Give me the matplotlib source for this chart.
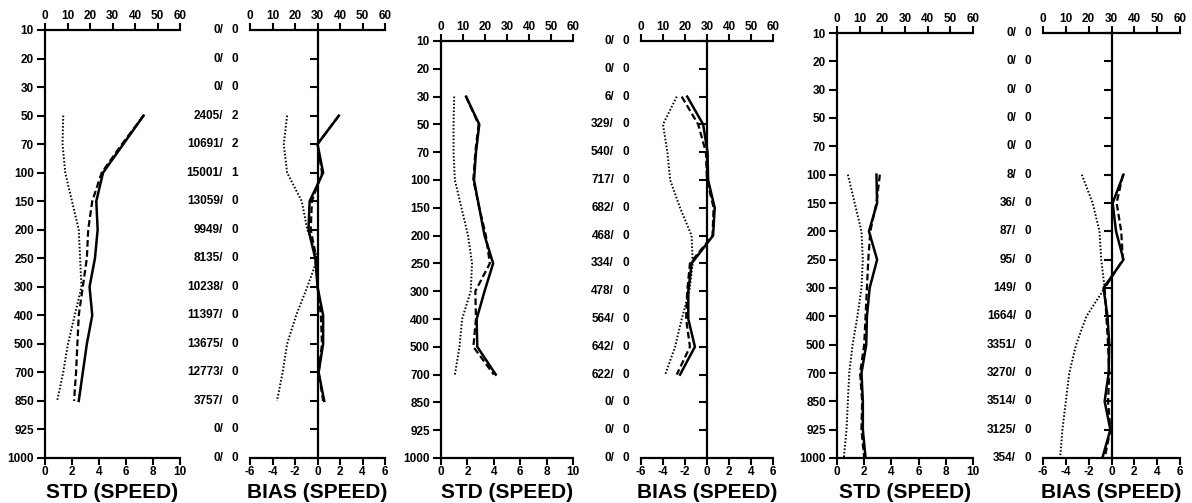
import numpy as np
import matplotlib
matplotlib.use("Agg")
import matplotlib.pyplot as plt

plt.rcParams['font.family'] = ['Liberation Sans', 'DejaVu Sans']
plt.rcParams['font.weight'] = 'bold'

################ datos ################
levels = ["10", "20", "30", "50", "70", "100", "150", "200", "250", "300",
          "400", "500", "700", "850", "925", "1000"]
nan = np.nan

# panel 1
n_obs1 = ["0", "0", "0", "2405", "10691", "15001", "13059", "9949", "8135",
          "10238", "11397", "13675", "12773", "3757", "0", "0"]
n_rej1 = ["0", "0", "0", "2", "2", "1", "0", "0", "0", "0", "0", "0", "0", "0", "0", "0"]
std1_solid  = [nan, nan, nan, 7.3, 5.8, 4.3, 3.8, 3.9, 3.7, 3.3, 3.5, 3.1, 2.8, 2.5, nan, nan]
std1_dash   = [nan, nan, nan, 7.3, 5.7, 4.2, 3.5, 3.2, 3.1, 2.8, 2.5, 2.4, 2.3, 2.15, nan, nan]
std1_dot    = [nan, nan, nan, 1.35, 1.3, 1.5, 2.0, 2.5, 2.6, 2.7, 2.2, 1.7, 1.35, 0.9, nan, nan]
bias1_solid = [nan, nan, nan, 1.9, 0.0, 0.5, -0.7, -0.8, -0.2, 0.0, 0.5, 0.5, 0.1, 0.6, nan, nan]
bias1_dash  = [nan, nan, nan, 1.9, 0.0, 0.4, -0.5, -0.6, -0.1, 0.0, 0.3, 0.4, 0.1, 0.5, nan, nan]
bias1_dot   = [nan, nan, nan, -2.7, -3.0, -2.7, -1.4, -0.9, 0.0, -0.9, -1.9, -2.7, -3.1, -3.6, nan, nan]

# panel 2
n_obs2 = ["0", "0", "6", "329", "540", "717", "682", "468", "334", "478",
          "564", "642", "622", "0", "0", "0"]
n_rej2 = ["0"] * 16
std2_solid  = [nan, nan, 1.9, 2.9, 2.65, 2.5, 2.9, 3.3, 3.95, 3.3, 2.7, 2.75, 4.15, nan, nan, nan]
std2_dash   = [nan, nan, 1.9, 2.85, 2.6, 2.45, 2.9, 3.4, 3.7, 2.6, 2.65, 2.45, 4.0, nan, nan, nan]
std2_dot    = [nan, nan, 1.0, 0.95, 0.95, 1.05, 1.55, 2.05, 2.35, 2.25, 1.6, 1.4, 1.05, nan, nan, nan]
bias2_solid = [nan, nan, -1.8, -0.35, 0.05, 0.1, 0.7, 0.55, -1.4, -1.7, -1.7, -1.1, -2.45, nan, nan, nan]
bias2_dash  = [nan, nan, -2.3, -0.8, -0.1, 0.0, 0.6, 0.5, -1.55, -1.8, -1.9, -1.55, -2.75, nan, nan, nan]
bias2_dot   = [nan, nan, -2.75, -4.0, -3.6, -3.35, -2.45, -1.4, -1.3, -1.6, -2.3, -2.9, -3.8, nan, nan, nan]

# panel 3
n_obs3 = ["0", "0", "0", "0", "0", "8", "36", "87", "95", "149",
          "1664", "3351", "3270", "3514", "3125", "354"]
n_rej3 = ["0"] * 16
std3_solid  = [nan, nan, nan, nan, nan, 2.9, 2.95, 2.35, 2.95, 2.4, 2.2, 2.15, 1.8, 1.9, 1.9, 2.1]
std3_dash   = [nan, nan, nan, nan, nan, 3.15, 2.9, 2.45, 2.3, 2.2, 2.1, 2.0, 1.7, 1.85, 1.8, 2.0]
std3_dot    = [nan, nan, nan, nan, nan, 0.8, 1.3, 1.8, 1.9, 1.8, 1.5, 1.15, 0.9, 0.8, 0.7, 0.5]
bias3_solid = [nan, nan, nan, nan, nan, 1.05, 0.1, 0.4, 1.05, -0.7, -0.35, -0.2, -0.25, -0.6, -0.1, -0.8]
bias3_dash  = [nan, nan, nan, nan, nan, 1.0, 0.45, 0.85, 1.0, -0.6, -0.45, -0.3, -0.2, -0.3, -0.1, -0.6]
bias3_dot   = [nan, nan, nan, nan, nan, -2.6, -1.65, -1.05, -0.9, -0.6, -2.2, -3.1, -3.7, -4.0, -4.3, -4.5]

std_ticks  = [0, 2, 4, 6, 8, 10]
bias_ticks = [-6, -4, -2, 0, 2, 4, 6]
top_ticks  = [0, 10, 20, 30, 40, 50, 60]

W, H = 1192, 503
fig = plt.figure(figsize=(W/100, H/100), dpi=100)
FS = 8.5

def px_axes(x0, x1, y0, y1):
    # posición en pixeles (y desde arriba)
    return fig.add_axes([x0/W, (H-y1)/H, (x1-x0)/W, (y1-y0)/H])

def style_ax(ax):
    for s in ['left', 'bottom', 'top']:
        ax.spines[s].set_linewidth(1.6)
    ax.spines['right'].set_visible(False)
    ax.tick_params(axis='y', width=1.5, length=6, labelsize=FS, pad=2)
    ax.tick_params(axis='x', width=1.5, length=5, labelsize=FS, pad=0.5)
    ax.set_facecolor('none')

def draw_lines(ax, solid, dash, dot):
    y = np.arange(len(levels))
    ax.plot(solid, y, color='k', lw=1.8, ls='-')
    ax.plot(dash, y, color='k', lw=1.6, ls=(0, (3, 1.5)))
    ax.plot(dot, y, color='k', lw=1.4, ls=(0, (0.8, 1.0)))

def top_axis(ax, fwd, inv):
    ax.spines['top'].set_visible(False)
    top = ax.secondary_xaxis('top', functions=(fwd, inv))
    top.set_xticks(top_ticks)
    top.set_xticklabels([str(t) for t in top_ticks], fontweight='bold')
    top.spines['top'].set_linewidth(1.6)
    top.tick_params(width=1.5, length=5, labelsize=FS, pad=1)

def title(ax, txt):
    ax.annotate(txt, xy=(0.5, 0), xycoords='axes fraction',
                xytext=(0, -34*0.72), textcoords='offset points',
                ha='center', va='center', fontsize=15, fontweight='bold')

def std_panel(x0, x1, y0, solid, dash, dot):
    ax = px_axes(x0, x1, y0, 458)
    style_ax(ax)
    ax.set_xlim(0, 10)
    ax.set_ylim(len(levels)-1, 0)
    ax.set_yticks(range(len(levels)))
    ax.set_yticklabels(levels, fontweight='bold')
    ax.set_xticks(std_ticks)
    ax.set_xticklabels([str(t) for t in std_ticks], fontweight='bold')
    top_axis(ax, lambda v: v*6, lambda v: v/6)
    draw_lines(ax, solid, dash, dot)
    title(ax, "STD (SPEED)")
    return ax

def bias_panel(x0, x1, y0, solid, dash, dot, nobs, nrej):
    ax = px_axes(x0, x1, y0, 458)
    style_ax(ax)
    ax.set_xlim(-6, 6)
    ax.set_ylim(len(levels)-1, 0)
    ax.spines['left'].set_position(('data', 0))
    ax.set_yticks(range(len(levels)))
    ax.set_yticklabels([])
    ax.set_xticks(bias_ticks)
    ax.set_xticklabels([str(t) for t in bias_ticks], fontweight='bold')
    top_axis(ax, lambda v: (v+6)*5, lambda v: v/5-6)
    draw_lines(ax, solid, dash, dot)
    for i in range(len(levels)):
        ax.annotate(nobs[i] + "/", xy=(0, i), xycoords=('axes fraction', 'data'),
                    xytext=(-27*0.72, 0), textcoords='offset points',
                    ha='right', va='center', fontsize=FS, fontweight='bold')
        ax.annotate(nrej[i], xy=(0, i), xycoords=('axes fraction', 'data'),
                    xytext=(-12*0.72, 0), textcoords='offset points',
                    ha='right', va='center', fontsize=FS, fontweight='bold')
    title(ax, "BIAS (SPEED)")
    return ax

std_panel(45, 180, 30, std1_solid, std1_dash, std1_dot)
bias_panel(250, 385, 30, bias1_solid, bias1_dash, bias1_dot, n_obs1, n_rej1)
std_panel(441, 573, 41, std2_solid, std2_dash, std2_dot)
bias_panel(641, 773, 41, bias2_solid, bias2_dash, bias2_dot, n_obs2, n_rej2)
std_panel(837, 973, 33, std3_solid, std3_dash, std3_dot)
bias_panel(1043, 1180, 33, bias3_solid, bias3_dash, bias3_dot, n_obs3, n_rej3)

fig.savefig("out.png", dpi=100)
